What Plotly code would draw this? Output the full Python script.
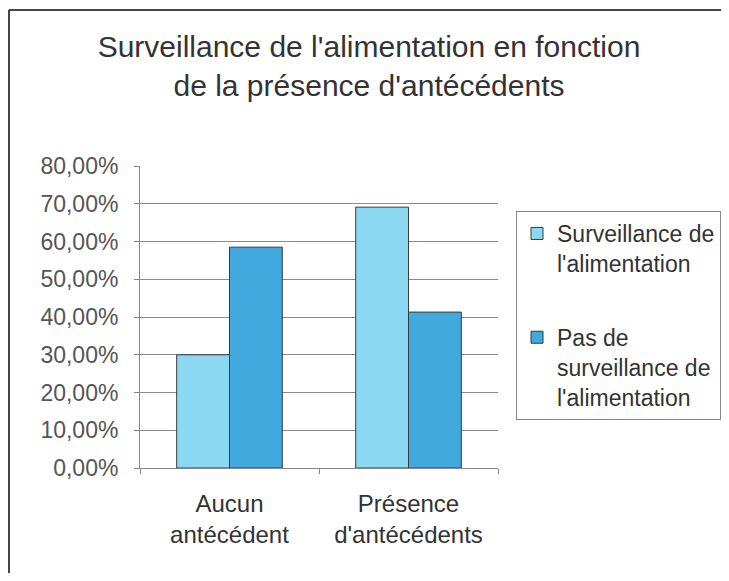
import plotly.graph_objects as go

categories = ["Aucun<br>antécédent", "Présence<br>d'antécédents"]
series_names = ["Surveillance de<br>l'alimentation", "Pas de<br>surveillance de<br>l'alimentation"]
surveillance = [30.0, 69.1]
pas_surveillance = [58.5, 41.3]
tick_vals = [0, 10, 20, 30, 40, 50, 60, 70, 80]
tick_text = ["0,00%", "10,00%", "20,00%", "30,00%", "40,00%", "50,00%", "60,00%", "70,00%", "80,00%"]

OFF = 8  # default page body margin
W, H = 729 - 2 * OFF, 581 - 2 * OFF
L, T = 140 - OFF, 166 - OFF
R = W - (498 - OFF)
B = H - (468 - OFF)
pw, ph = W - L - R, H - T - B

def px_x(p):
    return (p - OFF - L) / pw

def px_y(p):
    return (H - B - (p - OFF)) / ph

fig = go.Figure()
fig.add_trace(go.Bar(x=categories, y=surveillance, name=series_names[0], legendgroup="a",
                     marker=dict(color="#8AD8F2", line=dict(color="#3a3a3a", width=1))))
fig.add_trace(go.Bar(x=categories, y=pas_surveillance, name=series_names[1], legendgroup="b",
                     marker=dict(color="#42A9DE", line=dict(color="#3a3a3a", width=1))))

font = "Liberation Sans, Arial, sans-serif"
fig.update_layout(
    width=W, height=H,
    margin=dict(l=L, r=R, t=T, b=B, autoexpand=False),
    paper_bgcolor="white", plot_bgcolor="white",
    barmode="group", bargap=0.41, bargroupgap=0,
    font=dict(family=font, color="#333333"),
    title=dict(text="Surveillance de l'alimentation en fonction<br>de la présence d'antécédents",
               x=(369 - OFF) / W, xanchor="center", xref="container",
               y=1 - 49 / H, yanchor="top", yref="container",
               font=dict(size=30, color="#333333", family=font)),
    legend=dict(x=px_x(516), xanchor="left", y=px_y(211), yanchor="top",
                bordercolor="#888888", borderwidth=1, bgcolor="white",
                font=dict(size=23, color="#333333", family=font),
                valign="top", tracegroupgap=41, itemwidth=30,
                traceorder="grouped"),
    xaxis=dict(showline=True, linecolor="#888888", linewidth=1,
               ticks="outside", tickson="boundaries", ticklen=5, tickcolor="#888888",
               ticklabelstandoff=14,
               tickfont=dict(size=24, color="#333333"), showgrid=False,
               range=[-0.5, 1.5]),
    yaxis=dict(range=[0, 80], tickvals=tick_vals, ticktext=tick_text,
               showline=True, linecolor="#888888", linewidth=1,
               ticks="outside", ticklen=5, tickcolor="#888888",
               ticklabelstandoff=11,
               gridcolor="#8a8a8a", gridwidth=1,
               tickfont=dict(size=23, color="#555555"), zeroline=False),
    shapes=[
        dict(type="line", xref="paper", yref="paper",
             x0=px_x(9), x1=px_x(9), y0=px_y(581), y1=px_y(10),
             line=dict(color="#444444", width=2)),
        dict(type="line", xref="paper", yref="paper",
             x0=px_x(9), x1=px_x(729), y0=px_y(10), y1=px_y(10),
             line=dict(color="#444444", width=2)),
    ],
)

fig.write_html("out.html")
